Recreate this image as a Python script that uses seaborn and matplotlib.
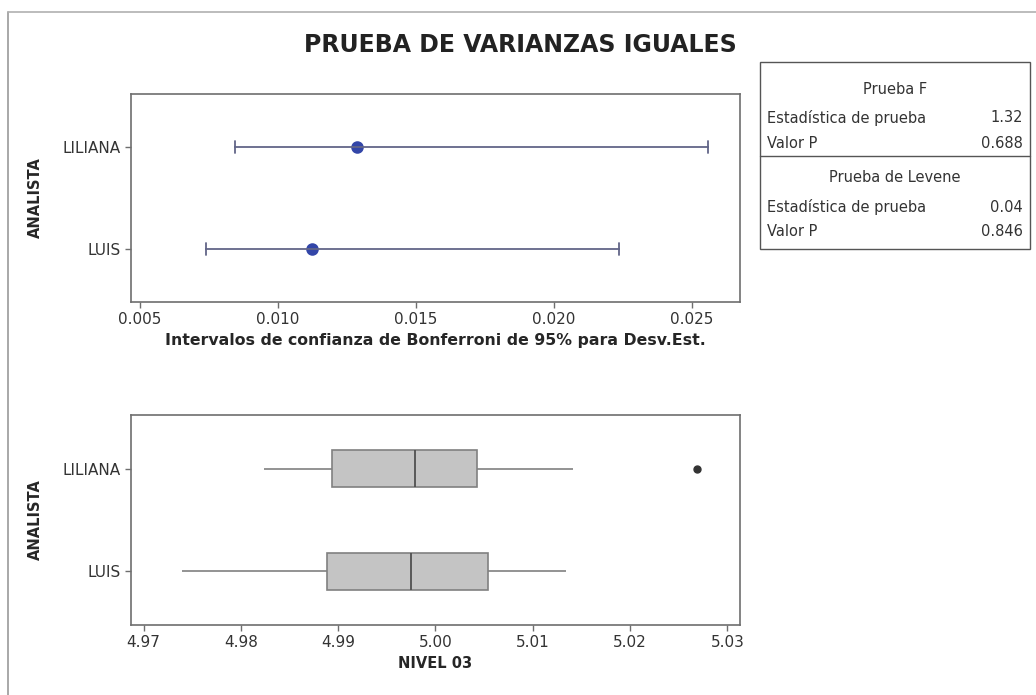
import numpy as np
import pandas as pd
import seaborn as sns
import matplotlib.pyplot as plt
from matplotlib.lines import Line2D

# Bonferroni 95% CI for the std dev: lower, estimate, upper
analistas = ["LILIANA", "LUIS"]
ci_lower = [0.00843, 0.00739]
desv_est = [0.01286, 0.01123]
ci_upper = [0.02557, 0.02234]

# NIVEL 03 readings per analyst
nivel_liliana = [4.9824, 4.9870, 4.9894, 4.9950, 4.9979, 5.0010, 5.00425, 5.01415, 5.02685]
nivel_luis = [4.9739, 4.98885, 4.9975, 5.0054, 5.0134]

# test results table
prueba_f = [("Estadística de prueba", "1.32"), ("Valor P", "0.688")]
prueba_levene = [("Estadística de prueba", "0.04"), ("Valor P", "0.846")]

sns.set_style("white")
plt.rcParams["font.family"] = ["DejaVu Sans"]

fig = plt.figure(figsize=(10.36, 6.95), dpi=100)

# build long tables for seaborn
ci_df = pd.DataFrame({
    "ANALISTA": np.repeat(analistas, 3),
    "valor": [v for trio in zip(ci_lower, desv_est, ci_upper) for v in trio],
})
box_df = pd.DataFrame({
    "ANALISTA": ["LILIANA"] * len(nivel_liliana) + ["LUIS"] * len(nivel_luis),
    "NIVEL 03": nivel_liliana + nivel_luis,
})

# --- top panel: confidence intervals ---
ax1 = fig.add_axes([0.1264, 0.5655, 0.5879, 0.2993])
sns.pointplot(data=ci_df, x="valor", y="ANALISTA", order=analistas,
              estimator=np.median, errorbar=lambda v: (v.min(), v.max()),
              linestyle="none", marker="o", markersize=7, color="#3346a8",
              capsize=0.12, err_kws={"color": "#626688", "linewidth": 1.3},
              ax=ax1)
ax1.set_xlim(0.00467, 0.02674)
ax1.set_ylim(1.52, -0.52)
ax1.set_xticks([0.005, 0.010, 0.015, 0.020, 0.025])
ax1.set_xticklabels(["0.005", "0.010", "0.015", "0.020", "0.025"])
ax1.set_xlabel("Intervalos de confianza de Bonferroni de 95% para Desv.Est.",
               fontsize=11.3, fontweight="bold", labelpad=4)
ax1.set_ylabel("ANALISTA", fontsize=10.5, fontweight="bold", labelpad=14)

# --- bottom panel: boxplots ---
ax2 = fig.add_axes([0.1264, 0.1007, 0.5879, 0.3022])
sns.boxplot(data=box_df, x="NIVEL 03", y="ANALISTA", order=analistas,
            orient="h", width=0.36, whis=1.5, color="#c4c4c4",
            linecolor="#808080", linewidth=1.2, showcaps=False,
            medianprops={"color": "#505050", "linewidth": 1.3},
            flierprops={"marker": "o", "markerfacecolor": "#333333",
                        "markeredgecolor": "#333333", "markersize": 5},
            ax=ax2)
ax2.set_xlim(4.9687, 5.0313)
ax2.set_ylim(1.52, -0.52)
ax2.set_xticks([4.97, 4.98, 4.99, 5.00, 5.01, 5.02, 5.03])
ax2.set_xticklabels(["4.97", "4.98", "4.99", "5.00", "5.01", "5.02", "5.03"])
ax2.set_xlabel("NIVEL 03", fontsize=10.5, fontweight="bold", labelpad=4)
ax2.set_ylabel("ANALISTA", fontsize=10.5, fontweight="bold", labelpad=14)

for ax in (ax1, ax2):
    for s in ax.spines.values():
        s.set_color("#6e6e6e")
        s.set_linewidth(1.2)
    ax.tick_params(axis="both", which="both", length=4, width=1,
                   color="#6e6e6e", labelsize=11, labelcolor="#333333",
                   bottom=True, left=True)
    ax.set_facecolor("white")

fig.text(0.502, 0.935, "PRUEBA DE VARIANZAS IGUALES", ha="center",
         va="center", fontsize=17, fontweight="bold", color="#222222")

# --- results table on the right ---
tx0, tx1 = 760 / 1036, 1030 / 1036


def fy(py):
    return 1 - py / 695


fig.add_artist(plt.Rectangle((tx0, fy(249)), tx1 - tx0, fy(62) - fy(249),
                             transform=fig.transFigure, fill=False,
                             edgecolor="#555555", linewidth=1))
fig.add_artist(Line2D([tx0, tx1], [fy(156), fy(156)],
                      transform=fig.transFigure, color="#555555", lw=1))
xc = (tx0 + tx1) / 2
fig.text(xc, fy(89), "Prueba F", ha="center", va="center", fontsize=10.5,
         color="#333333")
for (lab, val), py in zip(prueba_f, [118, 143]):
    fig.text(767 / 1036, fy(py), lab, ha="left", va="center", fontsize=10.5,
             color="#333333")
    fig.text(1023 / 1036, fy(py), val, ha="right", va="center",
             fontsize=10.5, color="#333333")
fig.text(xc, fy(177), "Prueba de Levene", ha="center", va="center",
         fontsize=10.5, color="#333333")
for (lab, val), py in zip(prueba_levene, [207, 232]):
    fig.text(767 / 1036, fy(py), lab, ha="left", va="center", fontsize=10.5,
             color="#333333")
    fig.text(1023 / 1036, fy(py), val, ha="right", va="center",
             fontsize=10.5, color="#333333")

# faint frame lines on the left and top of the picture
fig.add_artist(Line2D([8 / 1036, 8 / 1036], [0, fy(12)],
                      transform=fig.transFigure, color="#9a9a9a", lw=1.2))
fig.add_artist(Line2D([8 / 1036, 1], [fy(12), fy(12)],
                      transform=fig.transFigure, color="#b0b0b0", lw=1.2))

fig.savefig("out.png", dpi=100, facecolor="white")
